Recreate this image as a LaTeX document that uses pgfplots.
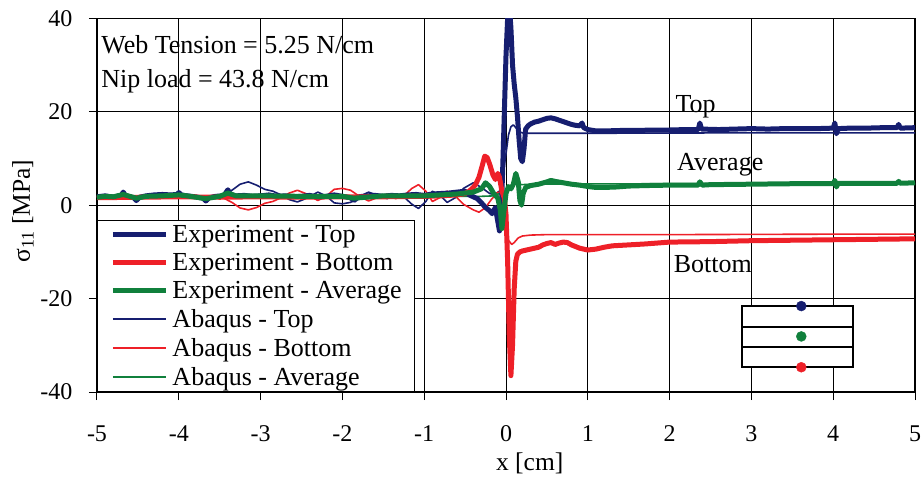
\documentclass[border=0pt]{standalone}
\usepackage{fontspec}
\setmainfont{Liberation Serif}
\usepackage{pgfplots}
\pgfplotsset{compat=1.18}
\definecolor{cnavy}{RGB}{22,30,112}
\definecolor{cred}{RGB}{238,32,40}
\definecolor{cgreen}{RGB}{16,128,60}
\begin{document}
\begin{tikzpicture}
\begin{axis}[
  name=ax,
  scale only axis, width=818pt, height=373.6pt,
  xmin=-5, xmax=5, ymin=-40, ymax=40,
  xtick={-5,-4,-3,-2,-1,0,1,2,3,4,5}, ytick={-40,-20,0,20,40},
  xticklabels={-5,-4,-3,-2,-1,0,1,2,3,4,5},
  yticklabels={-40,-20,0,20,40},
  grid=major, major grid style={black, line width=0.9pt},
  axis line style={black, line width=1.2pt},
  tick align=outside, major tick length=8pt, tick style={black, line width=1pt},
  xtick pos=left, ytick pos=left,
  ticklabel style={font=\fontsize{24}{26}\selectfont},
  xticklabel style={yshift=-22pt},
  yticklabel style={xshift=-13pt},
  xlabel={x [cm]}, ylabel={σ\textsubscript{11} [MPa]},
  label style={font=\fontsize{25.5}{28}\selectfont},
  xlabel style={at={(axis description cs:0.529,-0.190)}, anchor=center},
  ylabel style={at={(axis description cs:-0.0905,0.4845)}, anchor=center},
  every axis plot/.append style={line join=round},
  legend image code/.code={\draw[#1] (0pt,0pt) -- (53pt,0pt);},
  legend cell align=left,
  legend style={at={(0,0)}, anchor=south west, draw=black, line width=1pt, fill=white,
    font=\fontsize{26}{28.3}\selectfont, inner xsep=13pt, inner ysep=5pt, row sep=9.3pt,
    column sep=4pt, nodes={inner sep=0pt}},
]
% Abaqus - Top
\addplot[cnavy, line width=1.6pt, forget plot] coordinates {
(-5,1.8) (-4.5,1.9) (-4,1.9) (-3.6,1.9) (-3.45,2.2) (-3.35,3.2) (-3.25,4.5) (-3.15,5.0)
(-3.05,4.3) (-2.95,3.4) (-2.85,3.0) (-2.75,2.2) (-2.65,1.2) (-2.55,0.7) (-2.45,1.4)
(-2.3,2.8) (-2.2,2.0) (-2.1,0.5) (-2.0,0.3) (-1.9,0.6) (-1.8,1.8) (-1.68,2.8) (-1.55,2.0)
(-1.45,1.4) (-1.35,2.4) (-1.25,1.8) (-1.15,0.2) (-1.07,-0.7) (-0.98,0.8) (-0.9,3.0)
(-0.8,2.0) (-0.72,0.6) (-0.62,1.6) (-0.52,3.6) (-0.4,4.8) (-0.3,3.8) (-0.2,2.5) (-0.14,2.3)
(-0.08,3.0) (-0.04,6) (0.0,11) (0.03,15) (0.06,16.8) (0.09,17.2) (0.12,16.6) (0.16,15.7)
(0.22,15.4) (0.4,15.4) (1,15.4) (2,15.45) (3,15.5) (4,15.5) (5,15.5)};
% Abaqus - Bottom
\addplot[cred, line width=1.6pt, forget plot] coordinates {
(-5,1.8) (-4.5,1.8) (-4,1.8) (-3.6,1.8) (-3.45,1.5) (-3.35,0.6) (-3.25,-0.6) (-3.15,-1.0)
(-3.05,-0.5) (-2.95,0.4) (-2.85,0.8) (-2.75,1.6) (-2.65,2.6) (-2.55,3.2) (-2.45,2.5)
(-2.3,1.0) (-2.2,1.9) (-2.1,3.4) (-2.0,3.6) (-1.9,3.2) (-1.8,2.0) (-1.68,0.9) (-1.55,1.8)
(-1.45,2.4) (-1.35,1.4) (-1.25,2.0) (-1.15,3.6) (-1.07,4.4) (-0.98,3.0) (-0.9,0.8)
(-0.8,1.7) (-0.72,3.0) (-0.62,2.0) (-0.52,0.2) (-0.4,-1.0) (-0.33,-1.5) (-0.25,-0.5)
(-0.18,1.2) (-0.1,2.8) (-0.06,2.0) (-0.03,-2) (0.0,-5.5) (0.03,-7.5) (0.07,-8.4) (0.1,-8.0)
(0.15,-7.0) (0.2,-6.6) (0.3,-6.4) (0.5,-6.3) (1,-6.3) (2,-6.3) (3,-6.25) (4,-6.2) (5,-6.2)};
% Abaqus - Average
\addplot[cgreen, line width=1.6pt, forget plot] coordinates {
(-5,1.8) (-3.5,1.85) (-3.15,2.0) (-2.5,1.95) (-2,1.95) (-1.5,1.9) (-1,1.9) (-0.5,1.9)
(-0.3,1.9) (-0.15,2.0) (-0.08,2.5) (-0.03,2.5) (0.0,2.8) (0.03,3.8) (0.06,4.2) (0.1,4.6)
(0.2,4.4) (0.3,4.5) (0.5,4.55) (1,4.55) (2,4.6) (3,4.6) (4,4.65) (5,4.65)};
% Experiment - Top
\addplot[cnavy, line width=5pt, forget plot] coordinates {
(-5,1.8) (-4.9,2.0) (-4.8,1.7) (-4.7,2.1) (-4.68,2.8) (-4.65,2.0) (-4.55,1.6) (-4.52,1.0)
(-4.48,1.7) (-4.4,2.0) (-4.3,2.2) (-4.2,2.3) (-4.1,2.2) (-4.02,2.3) (-4.0,2.7) (-3.97,2.2)
(-3.9,2.0) (-3.8,1.8) (-3.7,1.5) (-3.67,0.9) (-3.63,1.6) (-3.55,1.9) (-3.45,2.0) (-3.4,3.3)
(-3.37,2.3) (-3.3,2.0) (-3.2,2.1) (-3.1,1.9) (-3.0,2.0) (-2.9,2.2) (-2.8,1.9) (-2.7,2.0)
(-2.6,1.8) (-2.5,1.9) (-2.4,2.1) (-2.3,1.7) (-2.2,1.9) (-2.1,2.2) (-2.0,1.9) (-1.9,1.6)
(-1.86,1.0) (-1.8,1.8) (-1.7,2.0) (-1.6,2.1) (-1.5,1.9) (-1.4,2.1) (-1.3,2.0) (-1.2,2.2)
(-1.1,2.3) (-1.0,2.1) (-0.9,2.4) (-0.8,2.5) (-0.7,2.6) (-0.6,2.8) (-0.5,3.0) (-0.45,2.2)
(-0.4,1.8) (-0.35,1.4) (-0.3,0.5) (-0.25,-0.5) (-0.2,-1.2) (-0.17,-1.8) (-0.13,-0.5)
(-0.1,-3.5) (-0.08,-5.5) (-0.06,-3) (-0.04,8) (-0.02,20) (0.0,32) (0.02,40) (0.04,43)
(0.06,38) (0.08,30) (0.1,26) (0.12,23) (0.14,19) (0.16,14) (0.18,10) (0.2,9.3) (0.22,12)
(0.24,16.3) (0.27,17.0) (0.3,17.4) (0.35,17.8) (0.4,18.0) (0.45,18.3) (0.5,18.6) (0.55,18.7)
(0.6,18.5) (0.65,18.2) (0.7,17.9) (0.75,17.6) (0.8,17.3) (0.85,17.1) (0.9,17.0) (0.93,17.6)
(0.95,16.6) (1.0,16.2) (1.1,15.9) (1.2,15.9) (1.4,16.0) (1.6,16.0) (1.8,16.1) (2.0,16.1)
(2.2,16.2) (2.35,16.2) (2.37,17.6) (2.39,16.3) (2.6,16.2) (2.8,16.3) (3.0,16.4) (3.2,16.3)
(3.4,16.4) (3.6,16.4) (3.8,16.4) (4.0,16.5) (4.02,17.6) (4.04,15.3) (4.06,16.4) (4.2,16.5)
(4.4,16.5) (4.6,16.6) (4.78,16.6) (4.8,17.3) (4.82,16.5) (5.0,16.6)};
% Experiment - Bottom
\addplot[cred, line width=5pt, forget plot] coordinates {
(-5,1.6) (-4.5,1.7) (-4,1.8) (-3.5,1.7) (-3,1.8) (-2.5,1.7) (-2,1.8) (-1.5,1.8) (-1,1.9)
(-0.8,2.0) (-0.6,2.2) (-0.5,2.5) (-0.45,3.0) (-0.4,3.8) (-0.37,4.5) (-0.33,6.0) (-0.29,8.5)
(-0.26,10.5) (-0.23,10.2) (-0.2,8.8) (-0.16,6.5) (-0.13,5.5) (-0.1,6.8) (-0.08,6.0)
(-0.05,3.0) (-0.02,1.5) (0.0,-2) (0.02,-12) (0.04,-28) (0.06,-36.5) (0.08,-30) (0.1,-18)
(0.12,-12) (0.14,-10.5) (0.17,-10.0) (0.2,-9.8) (0.25,-9.6) (0.3,-9.4) (0.35,-9.2) (0.4,-9.0)
(0.45,-8.5) (0.5,-8.2) (0.55,-8.0) (0.6,-8.4) (0.65,-8.1) (0.7,-7.9) (0.75,-8.0) (0.8,-8.5)
(0.9,-9.2) (1.0,-9.6) (1.1,-9.4) (1.2,-9.0) (1.3,-8.7) (1.5,-8.5) (1.7,-8.3) (2.0,-7.9)
(2.5,-7.8) (3.0,-7.6) (3.5,-7.5) (4.0,-7.4) (4.5,-7.3) (5.0,-7.2)};
% Experiment - Average
\addplot[cgreen, line width=5pt, forget plot] coordinates {
(-5,1.7) (-4.9,1.9) (-4.8,1.8) (-4.68,2.3) (-4.6,1.9) (-4.52,1.5) (-4.4,1.9) (-4.2,2.0)
(-4.0,2.2) (-3.9,2.0) (-3.67,1.4) (-3.5,1.9) (-3.4,2.6) (-3.3,2.0) (-3.0,2.0) (-2.5,1.9)
(-2.0,1.9) (-1.86,1.5) (-1.5,2.0) (-1.0,2.0) (-0.8,2.2) (-0.6,2.4) (-0.5,2.6) (-0.4,2.8)
(-0.3,3.5) (-0.25,4.8) (-0.2,4.0) (-0.15,2.5) (-0.1,1.5) (-0.07,-1) (-0.05,-5) (-0.03,-2)
(0.0,2.5) (0.03,4) (0.06,3.5) (0.09,4.5) (0.12,6.8) (0.15,5) (0.17,1) (0.19,0) (0.21,2.5)
(0.24,3.8) (0.3,4.2) (0.4,4.5) (0.5,5.0) (0.55,5.3) (0.6,5.1) (0.7,4.8) (0.8,4.5) (0.9,4.3)
(1.0,4.0) (1.1,3.8) (1.2,3.8) (1.35,3.9) (1.5,4.1) (1.7,4.2) (2.0,4.3) (2.35,4.3) (2.37,5.0)
(2.4,4.3) (2.5,4.4) (3.0,4.5) (3.5,4.6) (4.0,4.6) (4.02,5.3) (4.04,3.9) (4.06,4.7) (4.5,4.7)
(4.78,4.7) (4.8,5.1) (4.82,4.7) (5.0,4.8)};
% inset sketch
\draw[black, line width=2pt, fill=white] (axis cs:2.88,-21.6) rectangle (axis cs:4.24,-34.7);
\draw[black, line width=2pt] (axis cs:2.88,-26.0) -- (axis cs:4.24,-26.0);
\draw[black, line width=2pt] (axis cs:2.88,-30.3) -- (axis cs:4.24,-30.3);
\addplot[only marks, mark=*, mark size=5pt, cnavy, forget plot] coordinates {(3.61,-21.6)};
\addplot[only marks, mark=*, mark size=5pt, cgreen, forget plot] coordinates {(3.61,-28.1)};
\addplot[only marks, mark=*, mark size=5pt, cred, forget plot] coordinates {(3.61,-34.7)};
% annotations
\node[anchor=base west, inner sep=0pt, font=\fontsize{26}{28}\selectfont] at (axis cs:-4.95,32.5) {Web Tension = 5.25 N/cm};
\node[anchor=base west, inner sep=0pt, font=\fontsize{26}{28}\selectfont] at (axis cs:-4.95,25.3) {Nip load = 43.8 N/cm};
\node[anchor=base west, inner sep=0pt, font=\fontsize{26}{28}\selectfont] at (axis cs:2.07,19.85) {Top};
\node[anchor=base west, inner sep=0pt, font=\fontsize{26}{28}\selectfont] at (axis cs:2.09,7.5) {Average};
\node[anchor=base west, inner sep=0pt, font=\fontsize{26}{28}\selectfont] at (axis cs:2.05,-14.5) {Bottom};
% legend
\addlegendimage{cnavy, line width=5pt}\addlegendentry{Experiment - Top}
\addlegendimage{cred, line width=5pt}\addlegendentry{Experiment - Bottom}
\addlegendimage{cgreen, line width=5pt}\addlegendentry{Experiment - Average}
\addlegendimage{cnavy, line width=1.6pt}\addlegendentry{Abaqus - Top}
\addlegendimage{cred, line width=1.6pt}\addlegendentry{Abaqus - Bottom}
\addlegendimage{cgreen, line width=1.6pt}\addlegendentry{Abaqus - Average}
\end{axis}
\pgfresetboundingbox
\path[use as bounding box] (ax.south west) ++(-97pt,-87pt) rectangle ++(923pt,479pt);
\end{tikzpicture}
\end{document}
